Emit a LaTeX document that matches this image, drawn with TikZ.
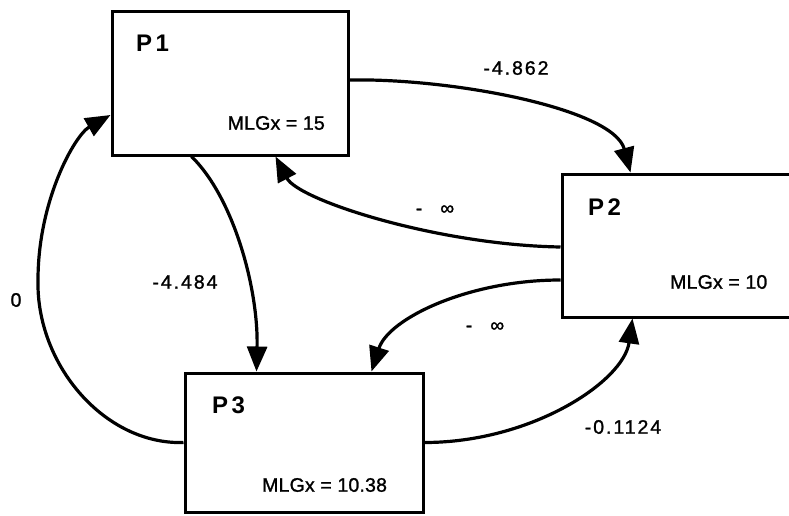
\documentclass[tikz,border=0pt]{standalone}
\usepackage{fontspec}
\setmainfont{Liberation Sans}
\newfontfamily\lblfont[LetterSpace=10,FakeBold=1.3]{Liberation Sans}
\newfontfamily\mlgfont[LetterSpace=1,FakeBold=1.3]{Liberation Sans}
\newfontfamily\ttlfont[LetterSpace=14]{Liberation Sans Bold}
\usetikzlibrary{arrows.meta,calc}
\begin{document}
\begin{tikzpicture}[x=1pt,y=-1pt,
  box/.style={draw,line width=3pt,rectangle,inner sep=0pt},
  ttl/.style={inner sep=0pt,font=\ttlfont\fontsize{24}{26}\selectfont},
  mlg/.style={inner sep=0pt,font=\mlgfont\fontsize{19.5}{21}\selectfont},
  lbl/.style={inner sep=0pt,font=\lblfont\fontsize{19.5}{21}\selectfont},
  conn/.style={line width=3.2pt,-{Triangle[length=25pt,width=20pt]}}]
\useasboundingbox (0,0) rectangle (789,516);
% boxes
\node[box,minimum width=236pt,minimum height=143pt] (P1) at (230,83.5) {};
\node[box,minimum width=236pt,minimum height=143pt] (P2) at (680,245.5) {};
\node[box,minimum width=238pt,minimum height=139pt] (P3) at (304,442.5) {};
% box texts
\node[ttl,anchor=west] (t1) at (136,43) {P1};
\node[mlg,anchor=east] (m1) at (325,123) {MLGx = 15};
\node[ttl,anchor=west] (t2) at (588,207) {P2};
\node[mlg,anchor=west] (m2) at (670,282) {MLGx = 10};
\node[ttl,anchor=west] (t3) at (212,405) {P3};
\node[mlg,anchor=west] (m3) at (262,485) {MLGx = 10.38};
% connectors
\draw[conn] ($(P1.east)+(0,-3.5)$) .. controls +(102,-2) and +(-17,-64) .. ($(P2.north west)+(70,0)$);
\draw[conn] ($(P2.west)+(0,1.5)$) .. controls +(-122,-2) and +(23,44) .. ($(P1.south west)+(165,0)$);
\draw[conn] ($(P1.south west)+(81,0)$) .. controls +(42,41) and +(2,-83) .. ($(P3.north west)+(73,0)$);
\draw[conn] ($(P2.west)+(0,34.5)$) .. controls +(-92,0) and +(17,-53) .. ($(P3.north west)+(188,0)$);
\draw[conn] (P3.east) .. controls +(107,0) and +(-9,63) .. ($(P2.south west)+(72,0)$);
\coordinate (loopL) at (38,280);
\draw[conn] (P3.west) .. controls (105,445) and (36,365) .. (loopL)
  .. controls (38,200) and (75,135) .. ($(P1.west)+(0,31.5)$);
% labels
\node[lbl] (l12) at (516,68) {-4.862};
\node[lbl] (l21) at (435,210) {-\hspace{18pt}∞};
\node[lbl] (l13) at (185,282) {-4.484};
\node[lbl] (l31) at (16,300) {0};
\node[lbl] (l23) at (485,327) {-\hspace{18pt}∞};
\node[lbl] (l32) at (623,427) {-0.1124};
\end{tikzpicture}
\end{document}
